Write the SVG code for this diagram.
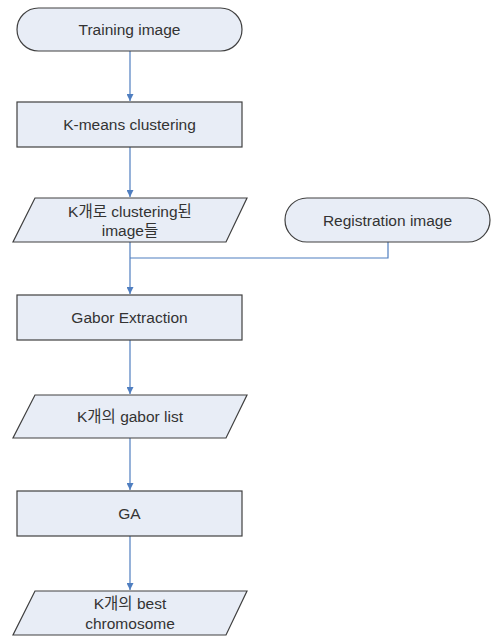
<svg xmlns="http://www.w3.org/2000/svg" width="491" height="637" viewBox="0 0 491 637">
<defs>
<style>
.n{fill:#E8EDF6;stroke:#404040;stroke-width:1.2}
.t{font-family:"Liberation Sans","Noto Sans CJK KR",Arial,sans-serif;font-size:15.5px;fill:#333;text-anchor:middle}
.c{fill:none;stroke:#4F7EC0;stroke-width:1.2}
</style>
<marker id="a" viewBox="0 0 10 10" refX="10" refY="5" markerWidth="7" markerHeight="7" markerUnits="userSpaceOnUse" orient="auto">
<path d="M0,0 L10,5 L0,10 z" fill="#4F7EC0"/>
</marker>
</defs>
<rect width="491" height="637" fill="#fff"/>
<g id="connectors">
<path class="c" d="M130,51 V101" marker-end="url(#a)"/>
<path class="c" d="M130,147 V197" marker-end="url(#a)"/>
<path class="c" d="M130,242 V294" marker-end="url(#a)"/>
<path class="c" d="M388,242 V258 H130"/>
<path class="c" d="M130,340 V394" marker-end="url(#a)"/>
<path class="c" d="M130,438 V490" marker-end="url(#a)"/>
<path class="c" d="M130,536 V590" marker-end="url(#a)"/>
</g>
<g id="training">
<rect class="n" x="17" y="8" width="225" height="43" rx="21.5"/>
<text class="t" x="129.5" y="35">Training image</text>
</g>
<g id="kmeans">
<rect class="n" x="17" y="102" width="225" height="45"/>
<text class="t" x="129.5" y="130">K-means clustering</text>
</g>
<g id="clustered">
<polygon class="n" points="35,198 247,198 226,242 13,242"/>
<text class="t" x="130" y="217">K개로 clustering된</text>
<text class="t" x="130" y="236">image들</text>
</g>
<g id="registration">
<rect class="n" x="285" y="198" width="205" height="44" rx="22"/>
<text class="t" x="387.5" y="225.5">Registration image</text>
</g>
<g id="gabor">
<rect class="n" x="17" y="295" width="225" height="45"/>
<text class="t" x="129.5" y="323">Gabor Extraction</text>
</g>
<g id="gaborlist">
<polygon class="n" points="35,395 247,395 226,438 13,438"/>
<text class="t" x="130" y="422">K개의 gabor list</text>
</g>
<g id="ga">
<rect class="n" x="17" y="491" width="225" height="45"/>
<text class="t" x="129.5" y="519">GA</text>
</g>
<g id="best">
<polygon class="n" points="35,591 247,591 226,635 13,635"/>
<text class="t" x="130" y="609">K개의 best</text>
<text class="t" x="130" y="629">chromosome</text>
</g>
</svg>
